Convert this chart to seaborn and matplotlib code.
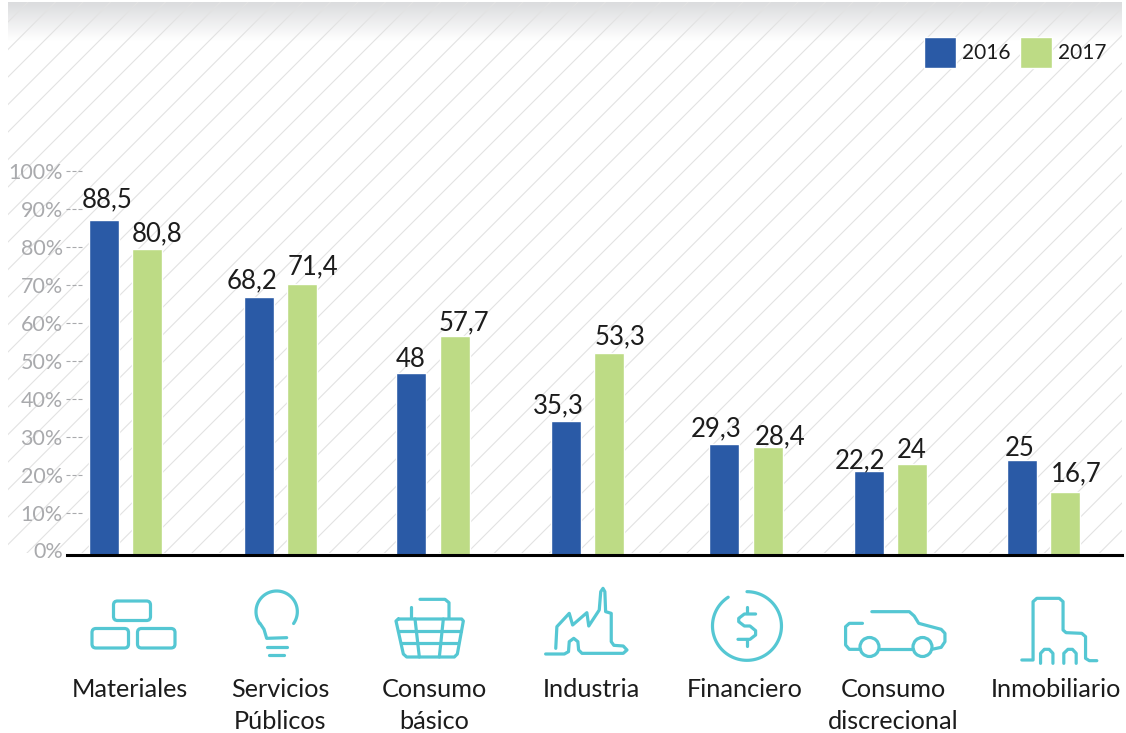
import matplotlib
matplotlib.use('Agg')
import matplotlib.pyplot as plt
from matplotlib.patches import Circle, FancyBboxPatch, Rectangle
import numpy as np
import pandas as pd
import seaborn as sns

# Data
categories = ['Materiales', 'Servicios\nPúblicos', 'Consumo\nbásico', 'Industria',
              'Financiero', 'Consumo\ndiscrecional', 'Inmobiliario']
years = ['2016', '2017']
values_2016 = [88.5, 68.2, 48, 35.3, 29.3, 22.2, 25]
values_2017 = [80.8, 71.4, 57.7, 53.3, 28.4, 24, 16.7]
tick_values = [0, 10, 20, 30, 40, 50, 60, 70, 80, 90, 100]
tick_labels = ['0%', '10%', '20%', '30%', '40%', '50%', '60%', '70%', '80%', '90%', '100%']

# Layout, in pixels of the 1126x733 picture
group_x = [125.5, 280.5, 433, 587.5, 746, 890.5, 1043.5]
label_x = [130, 280, 434, 591, 744.5, 893, 1055.5]
value_shift_2016 = [(3.5, 12.5), (-6.5, 8), (0, 6.5), (-7.5, 7.5), (-7.5, 8), (-9, 3), (-2, 4.5)]
value_shift_2017 = [(10, 7.5), (10.5, 10), (8.5, 6), (10.5, 8.5), (12.5, 3.5), (-0.5, 6.5), (10.5, 10)]
PX_PER_PCT = 3.79
BASE_Y = 555
TICK_SHIFT = 1.2

BLUE = '#2a5aa6'
GREEN = '#bddb85'
TEAL = '#55c7d3'
GREY = '#a9aaad'
DARK = '#1c1c1c'

sns.set_theme(style='white')
plt.rcParams['font.family'] = ['Lato', 'DejaVu Sans']

df = pd.DataFrame({
    'pos': group_x * 2,
    'value': values_2016 + values_2017,
    'year': [years[0]] * len(group_x) + [years[1]] * len(group_x),
})

fig = plt.figure(figsize=(11.26, 7.33), dpi=100)

# Background: grey fade on top and diagonal hatch
bg = fig.add_axes([0, 0, 1, 1], zorder=0)
bg.imshow(np.linspace(0, 1, 64).reshape(-1, 1), extent=(8, 1122, 41, 2), aspect='auto',
          cmap=matplotlib.colors.LinearSegmentedColormap.from_list('fade', ['#dbdcde', '#ffffff']))
clip = Rectangle((8, 2), 1114, 551, transform=bg.transData)
for c in np.arange(57.5 - 27.5 * 2, 1700, 27.5):
    line, = bg.plot([c - 2, c - 800], [2, 800], color='#e2e2e2', lw=0.8)
    line.set_clip_path(clip)
bg.set_xlim(0, 1126)
bg.set_ylim(733, 0)
bg.axis('off')

# Chart
ax_top = 171
ax = fig.add_axes([67 / 1126, (733 - BASE_Y) / 733, (1122 - 67) / 1126, (BASE_Y - ax_top) / 733], zorder=1)
ax.patch.set_alpha(0)
sns.barplot(data=df, x='pos', y='value', hue='year', hue_order=years, native_scale=True,
            palette=[BLUE, GREEN], saturation=1, width=0.6, gap=0.31, ax=ax)
ax.set_xlim(67, 1122)
ax.set_ylim(0, (BASE_Y - ax_top) / PX_PER_PCT)
ax.set_xlabel('')
ax.set_ylabel('')
sns.despine(ax=ax, left=True)
ax.spines['bottom'].set_color('black')
ax.spines['bottom'].set_linewidth(2.2)

ax.set_yticks([v + TICK_SHIFT for v in tick_values], labels=tick_labels)
ax.tick_params(axis='y', length=0, pad=3, labelsize=15.5, labelcolor=GREY)
ax.hlines([v + TICK_SHIFT for v in tick_values[1:]], 66, 82, colors=GREY, lw=0.8,
          linestyles=(0, (3.6, 1.8)), clip_on=False)

ax.set_xticks(label_x, labels=categories)
ax.tick_params(axis='x', length=0, pad=88.5, labelsize=18.2, labelcolor=DARK)
for lab in ax.get_xticklabels():
    lab.set_linespacing(1.5)

# Value labels over the bars
bar_half = 22
for i, x in enumerate(group_x):
    for vals, shift, side in ((values_2016, value_shift_2016, -1), (values_2017, value_shift_2017, 1)):
        txt = f'{vals[i]:g}'.replace('.', ',')
        ax.annotate(txt, (x + side * bar_half, vals[i]), xytext=(shift[i][0] * 0.72, shift[i][1] * 0.72),
                    textcoords='offset points', ha='center', va='baseline',
                    fontsize=18.5, color=DARK, annotation_clip=False)

sns.move_legend(ax, 'upper right', bbox_to_anchor=(1106.5 / 1126, (733 - 37) / 733),
                bbox_transform=fig.transFigure, title=None, frameon=False, ncols=2, fontsize=15,
                handlelength=1.54, handleheight=1.9, handletextpad=0.3, columnspacing=0.42,
                borderpad=0, borderaxespad=0, labelcolor=DARK)

# Icons, traced in pixels from crops of the picture
fg = fig.add_axes([0, 0, 1, 1], zorder=2)
fg.patch.set_alpha(0)
fg.set_xlim(0, 1126)
fg.set_ylim(733, 0)
fg.axis('off')
ICON_LW = 2.3


def trace(points, ox=60, oy=570, sx=3.0, sy=3.0):
    xs = [ox + p[0] / sx for p in points]
    ys = [oy + p[1] / sy for p in points]
    fg.plot(xs, ys, color=TEAL, lw=ICON_LW, solid_capstyle='round', solid_joinstyle='round')


def trace2(points):
    trace(points, ox=540, sx=2.667)


# bricks
for x0, y0, x1, y1 in ((113.5, 601, 150.5, 620.5), (92, 628.5, 128.5, 648), (137.5, 628.5, 175, 648)):
    fg.add_patch(FancyBboxPatch((x0 + 4, y0 + 4), x1 - x0 - 8, y1 - y0 - 8, boxstyle='round,pad=4,rounding_size=4',
                                fill=False, ec=TEAL, lw=ICON_LW))

# bulb
t = np.radians(np.linspace(-35, 215, 60))
trace(list(zip(650 + 62 * np.cos(t), 125 - 62 * np.sin(t))))
trace([(600, 160), (612, 178), (620, 205), (680, 203)])
trace([(620, 230), (680, 230)])
trace([(628, 255), (672, 255)])

# basket
trace([(1080, 88), (1155, 88), (1167, 98), (1167, 145)])
trace([(1052, 110), (1052, 145)])
trace([(1015, 147), (1205, 147), (1210, 153), (1192, 252), (1183, 261), (1040, 261), (1030, 252), (1008, 153), (1015, 147)])
trace([(1015, 183), (1203, 183)])
trace([(1024, 220), (1195, 220)])
trace([(1065, 147), (1078, 261)])
trace([(1150, 147), (1138, 261)])

# factory
trace2([(15, 252), (65, 252), (76, 245), (78, 215), (90, 205), (101, 215), (103, 240), (112, 250), (222, 250),
        (232, 240), (222, 228), (197, 226), (190, 215), (190, 130), (175, 125), (173, 65), (168, 55), (162, 65),
        (158, 120), (130, 168), (125, 128), (87, 165), (78, 130), (45, 170), (42, 235)])

# dollar
t = np.radians(np.linspace(90, -237, 90))
trace2(list(zip(552 + 92 * np.cos(t), 168 - 103 * np.sin(t))))
trace2([(575, 132), (545, 132), (530, 145), (530, 155), (545, 168), (560, 168), (575, 182), (575, 195), (560, 208), (528, 208)])
trace2([(552, 110), (552, 130)])
trace2([(552, 208), (552, 228)])

# car
trace2([(885, 125), (985, 125), (998, 138), (1010, 160), (1070, 178), (1080, 190), (1080, 215), (1070, 232), (1045, 238)])
trace2([(905, 238), (995, 238)])
trace2([(860, 160), (825, 160), (815, 170), (815, 225), (825, 238), (855, 238)])
for cx in (869.5, 922.5):
    fg.add_patch(Circle((cx, 647), 9.5, fill=False, ec=TEAL, lw=ICON_LW))

# building
trace2([(1285, 270), (1315, 270), (1315, 95), (1325, 85), (1385, 85), (1395, 95), (1395, 180), (1403, 188), (1445, 190),
        (1455, 200), (1455, 265), (1465, 272), (1485, 272)])
trace2([(1335, 280), (1335, 250), (1345, 238), (1358, 238), (1368, 250), (1368, 280)])
trace2([(1397, 280), (1397, 250), (1408, 238), (1420, 238), (1430, 250), (1430, 280)])

fig.savefig('out.png', dpi=100)
